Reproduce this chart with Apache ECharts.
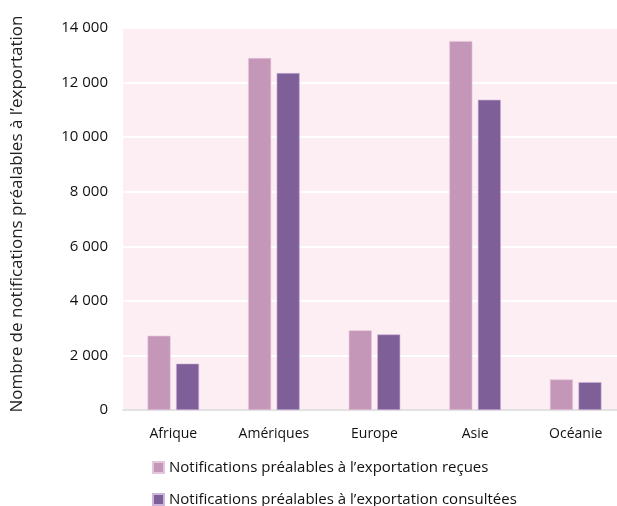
<!DOCTYPE html>
<html>
<head>
<meta charset="utf-8">
<script src="https://cdn.jsdelivr.net/npm/echarts@6/dist/echarts.min.js"></script>
<style>
  html, body { margin: 0; padding: 0; background: #ffffff; }
  #chart { width: 617px; height: 506px; }
</style>
</head>
<body>
<div id="chart"></div>
<script>
// Regions on the x axis
const regions = ['Afrique', 'Amériques', 'Europe', 'Asie', 'Océanie'];
// Prior export notifications received, per region
const received = [2720, 12900, 2920, 13520, 1120];
// Prior export notifications consulted, per region
const consulted = [1700, 12350, 2770, 11370, 1020];
const seriesNames = [
  'Notifications préalables à l’exportation reçues',
  'Notifications préalables à l’exportation consultées'
];
const yAxisTitle = 'Nombre de notifications préalables à l’exportation';

const font = '"Open Sans", "Liberation Sans", sans-serif';
const fmt = v => v === 0 ? '0' : String(v).replace(/\B(?=(\d{3})+(?!\d))/g, ' ');

const legendText = { fontSize: 15, color: '#111', fontFamily: font };
const legendBase = {
  orient: 'vertical',
  left: 147,
  itemWidth: 11, itemHeight: 11, itemGap: 6,
  icon: 'rect',
  textStyle: legendText
};

const chart = echarts.init(document.getElementById('chart'), null, { renderer: 'canvas' });
chart.setOption({
  animation: false,
  backgroundColor: '#ffffff',
  textStyle: { fontFamily: font },
  grid: {
    left: 123, top: 28, width: 503, height: 382,
    show: true, backgroundColor: '#fdeef3', borderWidth: 0,
    containLabel: false,
    outerBoundsMode: 'none'
  },
  legend: [
    Object.assign({}, legendBase, { top: 455, data: [seriesNames[0]] }),
    Object.assign({}, legendBase, { top: 487, data: [seriesNames[1]] })
  ],
  xAxis: {
    type: 'category',
    data: regions,
    axisLine: { lineStyle: { color: '#d9d9d9', width: 1.5 } },
    axisTick: { show: false },
    axisLabel: { color: '#111', fontSize: 14, margin: 17, fontFamily: font }
  },
  yAxis: {
    type: 'value',
    min: 0, max: 14000, interval: 2000,
    name: yAxisTitle,
    nameLocation: 'middle',
    nameGap: 97,
    nameTextStyle: { fontSize: 17, color: '#222', fontFamily: font, padding: [0, 0, 0, 10] },
    axisLine: { show: false },
    axisTick: { show: false },
    axisLabel: { color: '#111', fontSize: 15, margin: 15, formatter: fmt, fontFamily: font },
    splitLine: { lineStyle: { color: '#ffffff', width: 2 } }
  },
  series: [
    {
      name: seriesNames[0], type: 'bar', data: received,
      barWidth: 23, barGap: '24%',
      itemStyle: { color: '#c497b8', borderColor: '#e4c6dc', borderWidth: 0.6 }
    },
    {
      name: seriesNames[1], type: 'bar', data: consulted,
      barWidth: 23,
      itemStyle: { color: '#7e5f98', borderColor: '#cdb4dc', borderWidth: 0.6 }
    }
  ]
});
</script>
</body>
</html>
